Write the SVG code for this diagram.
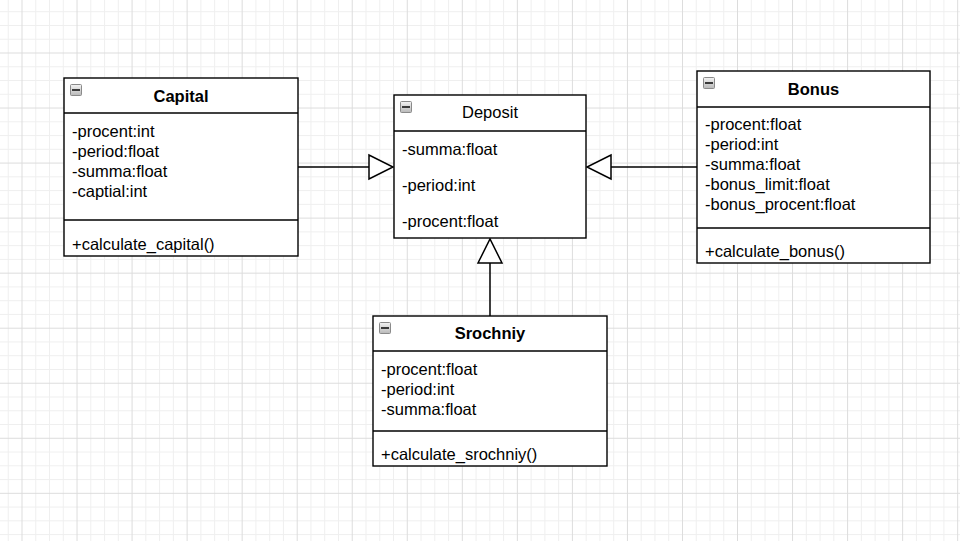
<svg xmlns="http://www.w3.org/2000/svg" width="960" height="541" viewBox="0 0 960 541">
  <defs>
    <pattern id="grid" patternUnits="userSpaceOnUse" x="21.5" y="52.5" width="55.04" height="55.04">
      <rect x="13.76" y="0" width="1" height="55.04" fill="#efefef"/>
      <rect x="27.52" y="0" width="1" height="55.04" fill="#efefef"/>
      <rect x="41.28" y="0" width="1" height="55.04" fill="#efefef"/>
      <rect x="0" y="13.76" width="55.04" height="1" fill="#efefef"/>
      <rect x="0" y="27.52" width="55.04" height="1" fill="#efefef"/>
      <rect x="0" y="41.28" width="55.04" height="1" fill="#efefef"/>
      <rect x="0" y="0" width="1" height="55.04" fill="#dcdcdc"/>
      <rect x="0" y="0" width="55.04" height="1" fill="#dcdcdc"/>
    </pattern>
    <linearGradient id="iconGrad" x1="0" y1="0" x2="0" y2="1">
      <stop offset="0" stop-color="#f4f4f4"/>
      <stop offset="1" stop-color="#b8b8b8"/>
    </linearGradient>
    <g id="icon">
      <rect x="0.5" y="0.5" width="11" height="11" rx="1" fill="url(#iconGrad)" stroke="#8a8a8a" stroke-width="1"/>
      <rect x="2" y="5" width="8" height="2" fill="#3a3a3a"/>
    </g>
  </defs>
  <style>
    .box { fill: #ffffff; stroke: #000000; stroke-width: 1.4; }
    .sep { stroke: #000000; stroke-width: 1.4; fill: none; }
    .title { font-family: "Liberation Sans", Arial, sans-serif; font-size: 16.5px; font-weight: bold; fill: #000000; text-anchor: middle; }
    .title-n { font-family: "Liberation Sans", Arial, sans-serif; font-size: 16.5px; fill: #000000; text-anchor: middle; }
    .txt { font-family: "Liberation Sans", Arial, sans-serif; font-size: 16.5px; fill: #000000; }
    .edge { stroke: #000000; stroke-width: 1.5; fill: none; }
    .tri { stroke: #000000; stroke-width: 1.5; fill: #ffffff; }
  </style>

  <rect x="0" y="0" width="960" height="541" fill="#ffffff"/>
  <rect x="0" y="0" width="960" height="541" fill="url(#grid)"/>

  <g id="connectors">
    <path class="edge" d="M298 167 H369"/>
    <polygon class="tri" points="369,155 369,179 393,167"/>
    <path class="edge" d="M697 167 H611"/>
    <polygon class="tri" points="611,155 611,179 587,167"/>
    <path class="edge" d="M490 316 V263"/>
    <polygon class="tri" points="478,263 502,263 490,239"/>
  </g>

  <g id="Capital">
    <rect class="box" x="64" y="78" width="234" height="178"/>
    <line class="sep" x1="64" y1="113" x2="298" y2="113"/>
    <line class="sep" x1="64" y1="220" x2="298" y2="220"/>
    <use href="#icon" x="70" y="84"/>
    <text class="title" x="181" y="102">Capital</text>
    <text class="txt" x="72" y="137">-procent:int</text>
    <text class="txt" x="72" y="157">-period:float</text>
    <text class="txt" x="72" y="177">-summa:float</text>
    <text class="txt" x="72" y="197">-captial:int</text>
    <text class="txt" x="72" y="250">+calculate_capital()</text>
  </g>

  <g id="Deposit">
    <rect class="box" x="394" y="95" width="192" height="143"/>
    <line class="sep" x1="394" y1="131" x2="586" y2="131"/>
    <use href="#icon" x="400" y="101"/>
    <text class="title-n" x="490" y="118">Deposit</text>
    <text class="txt" x="402" y="155">-summa:float</text>
    <text class="txt" x="402" y="191">-period:int</text>
    <text class="txt" x="402" y="227">-procent:float</text>
  </g>

  <g id="Bonus">
    <rect class="box" x="697" y="71" width="233" height="192"/>
    <line class="sep" x1="697" y1="107" x2="930" y2="107"/>
    <line class="sep" x1="697" y1="228" x2="930" y2="228"/>
    <use href="#icon" x="703" y="77"/>
    <text class="title" x="813.5" y="95">Bonus</text>
    <text class="txt" x="705" y="130">-procent:float</text>
    <text class="txt" x="705" y="150">-period:int</text>
    <text class="txt" x="705" y="170">-summa:float</text>
    <text class="txt" x="705" y="190">-bonus_limit:float</text>
    <text class="txt" x="705" y="210">-bonus_procent:float</text>
    <text class="txt" x="705" y="257">+calculate_bonus()</text>
  </g>

  <g id="Srochniy">
    <rect class="box" x="373" y="316" width="234" height="150"/>
    <line class="sep" x1="373" y1="351" x2="607" y2="351"/>
    <line class="sep" x1="373" y1="431" x2="607" y2="431"/>
    <use href="#icon" x="379" y="322"/>
    <text class="title" x="490" y="339">Srochniy</text>
    <text class="txt" x="381" y="375">-procent:float</text>
    <text class="txt" x="381" y="395">-period:int</text>
    <text class="txt" x="381" y="415">-summa:float</text>
    <text class="txt" x="381" y="460">+calculate_srochniy()</text>
  </g>
</svg>
